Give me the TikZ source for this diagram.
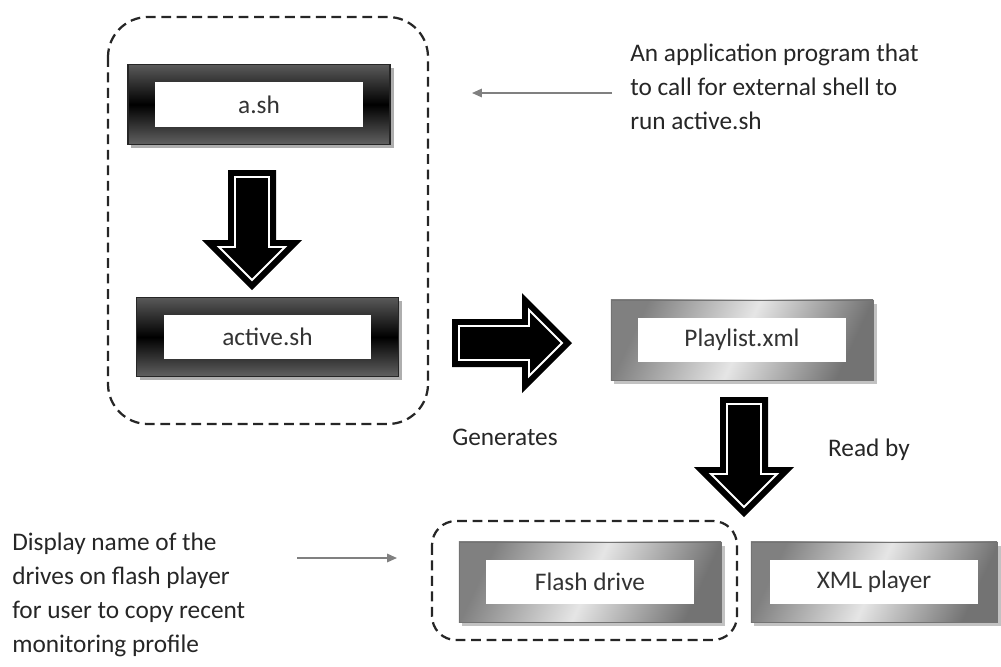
\documentclass[tikz,border=0pt]{standalone}
\usepackage{fontspec}
\setmainfont{Carlito}
\usetikzlibrary{arrows.meta,shadows}

\begin{document}
\begin{tikzpicture}[x=0.025cm,y=-0.025cm,
        font=\fontsize{18}{24.2}\selectfont,
        shframe/.style={draw=black!85, line width=.8pt, minimum width=6.55cm, minimum height=1.98cm,
            top color=black!65, bottom color=black!62, middle color=black,
            drop shadow={shadow xshift=2.5pt, shadow yshift=-2.5pt, fill=black!45, opacity=.7}},
        mtframe/.style={draw=black!55, line width=.6pt, minimum width=6.55cm, minimum height=2cm,
            left color=black!50, right color=black!55, middle color=black!10, shading angle=65,
            drop shadow={shadow xshift=2.5pt, shadow yshift=-2.5pt, fill=black!40, opacity=.6}},
        inbox/.style={fill=white, minimum width=5.18cm, minimum height=1.1cm, inner sep=0pt, text=black!80},
        group/.style={draw=black!85, line width=1.6pt, dash pattern=on 7pt off 4pt, rounded corners=1cm},
        note/.style={align=left, inner sep=0pt, text=black!85},
        pointer/.style={draw=black!50, line width=1.1pt, -{Triangle[length=7pt,width=6pt]}},
        blockarrow/.pic={
            \fill[black] (0,-24) -- (70,-24) -- (70,-50) -- (120,0) -- (70,50) -- (70,24) -- (0,24) -- cycle;
            \draw[white, line width=1.4pt] (7,-17) -- (77,-17) -- (77,-33) -- (110,0) -- (77,33) -- (77,17) -- (7,17) -- cycle;
        }]
    \useasboundingbox (0,0) rectangle (1001,666);
    \draw[group] (108,17) rectangle (428,424);
    \draw[group, rounded corners=.6cm] (432,521) rectangle (737,640);
    \node[shframe] (ash) at (259,104.5) {};
    \node[inbox] (ashlbl) at (ash.center) {a.sh};
    \node[shframe] (active) at (267.5,337) {};
    \node[inbox] (activelbl) at (active.center) {active.sh};
    \node[mtframe] (playlist) at (742,340) {};
    \node[inbox] (playlistlbl) at (playlist.center) {Playlist.xml};
    \node[mtframe] (flash) at (590,582) {};
    \node[inbox] (flashlbl) at (flash.center) {Flash drive};
    \node[mtframe, minimum width=6.15cm] (xml) at (874,582) {};
    \node[inbox] (xmllbl) at (xml.center) {XML player};
    \pic[rotate=-90] at (252,170) {blockarrow};
    \pic at (452,343) {blockarrow};
    \pic[rotate=-90] at (744,397) {blockarrow};
    \node[note] (gen) at (505,437) {Generates};
    \node[note] (readby) at (869,450) {Read by};
    \node[note, anchor=west] (apptext) at (630,87) {An application program that\\to call for external shell to\\run active.sh};
    \node[note, anchor=west] (disptext) at (12,595) {Display name of the\\drives on flash player\\for user to copy recent\\monitoring profile};
    \coordinate (apptail) at (612,93);
    \coordinate (apphead) at (472,93);
    \coordinate (disptail) at (297,558);
    \coordinate (disphead) at (397,558);
    \draw[pointer] (apptail) -- (apphead);
    \draw[pointer] (disptail) -- (disphead);
\end{tikzpicture}
\end{document}
